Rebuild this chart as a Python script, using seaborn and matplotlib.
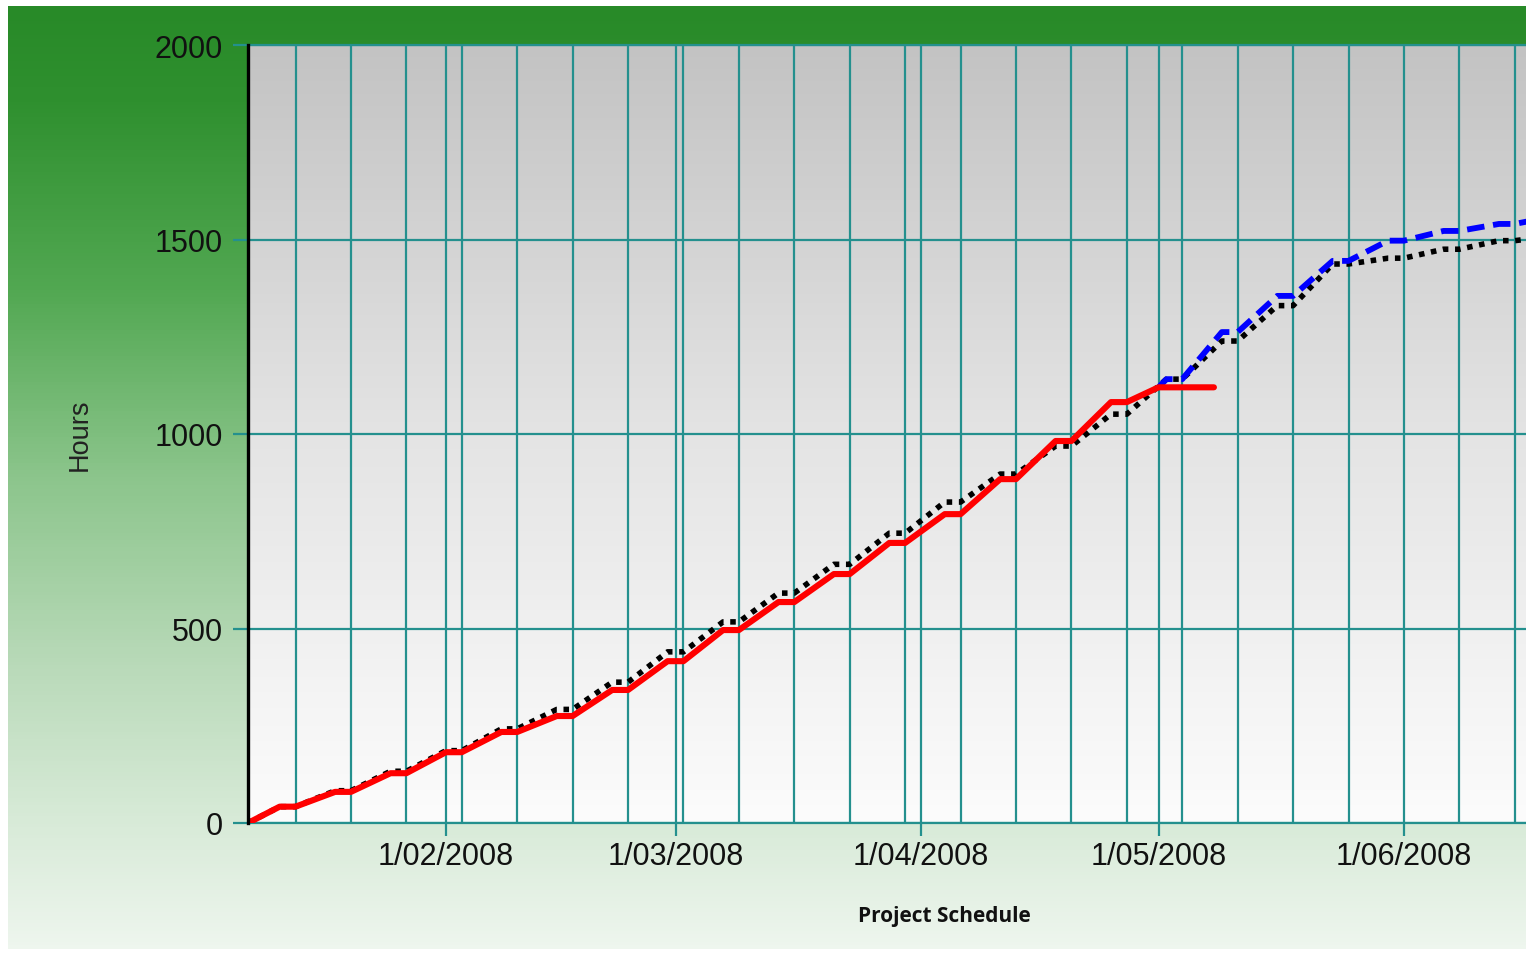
import matplotlib
matplotlib.use("Agg")
import matplotlib.pyplot as plt
import matplotlib.dates as mdates
from matplotlib.colors import LinearSegmentedColormap
from matplotlib.ticker import FuncFormatter
import numpy as np
import pandas as pd
import seaborn as sns

# Werte (Stunden) jeweils am Sonntag der Woche
actual_start = ("2008-01-07", 0)
actual_sundays = ["2008-01-13", "2008-01-20", "2008-01-27", "2008-02-03", "2008-02-10",
                  "2008-02-17", "2008-02-24", "2008-03-02", "2008-03-09", "2008-03-16",
                  "2008-03-23", "2008-03-30", "2008-04-06", "2008-04-13", "2008-04-20",
                  "2008-04-27"]
actual_hours = [42, 80, 128, 182, 234, 275, 342, 416, 496, 568, 640, 720, 794, 884, 982, 1082]
actual_tail = [("2008-05-01", 1120), ("2008-05-08", 1120)]

plan_start = ("2008-01-07", 0)
plan_sundays = ["2008-01-13", "2008-01-20", "2008-01-27", "2008-02-03", "2008-02-10",
                "2008-02-17", "2008-02-24", "2008-03-02", "2008-03-09", "2008-03-16",
                "2008-03-23", "2008-03-30", "2008-04-06", "2008-04-13", "2008-04-20",
                "2008-04-27", "2008-05-04", "2008-05-11", "2008-05-18", "2008-05-25",
                "2008-06-01", "2008-06-08", "2008-06-15"]
plan_hours = [42, 83, 133, 186, 242, 292, 362, 440, 517, 591, 665, 745, 825, 897, 969,
              1051, 1141, 1239, 1330, 1437, 1452, 1475, 1497]
plan_tail = [("2008-06-17", 1502)]

forecast_start = ("2008-05-01", 1120)
forecast_sundays = ["2008-05-04", "2008-05-11", "2008-05-18", "2008-05-25", "2008-06-01",
                    "2008-06-08", "2008-06-15"]
forecast_hours = [1141, 1262, 1355, 1445, 1497, 1522, 1540]
forecast_tail = [("2008-06-17", 1548)]

y_ticks = [0, 500, 1000, 1500, 2000]

TEAL = "#24908e"


def weekend_steps(start, sundays, values, tail):
    """Baut die Wochen-Treppe: Freitag bis Sonntag flach."""
    rows = [(pd.Timestamp(start[0]), start[1])]
    for d, v in zip(sundays, values):
        sun = pd.Timestamp(d)
        rows.append((sun - pd.Timedelta(days=2), v))
        rows.append((sun, v))
    for d, v in tail:
        rows.append((pd.Timestamp(d), v))
    return pd.DataFrame(rows, columns=["date", "hours"])


def month_label(x, pos):
    d = mdates.num2date(x)
    return f"{d.day}/{d.month:02d}/{d.year}"


def main():
    plt.rcParams['font.family'] = ['Liberation Sans', 'DejaVu Sans']

    W, H = 1526, 954
    fig = plt.figure(figsize=(W / 100, H / 100), dpi=100)
    fig.patch.set_facecolor("white")

    # Hintergrund in Pixelkoordinaten
    bg = fig.add_axes([0, 0, 1, 1], zorder=0)
    bg.axis("off")
    green = LinearSegmentedColormap.from_list(
        "green", [(0.0, "#288a28"), (0.1, "#2f902f"), (0.3, "#52a852"),
                  (0.5, "#8cc58c"), (0.7, "#b9dab9"), (0.85, "#d5e9d5"), (1.0, "#eef6ee")])
    grad = np.linspace(0, 1, 256).reshape(-1, 1)
    bg.imshow(grad, extent=[8, W, 950, 7], cmap=green, aspect="auto")
    gray = LinearSegmentedColormap.from_list("gray", ["#c3c3c3", "#e4e4e4", "#fcfcfc"])
    bg.imshow(grad, extent=[248, W, 824, 46], cmap=gray, aspect="auto")
    bg.set_xlim(0, W)
    bg.set_ylim(H, 0)

    ax = fig.add_axes([248 / W, 1 - 824 / H, 1 - 248 / W, (824 - 46) / H], zorder=1)
    ax.patch.set_alpha(0)

    plan = weekend_steps(plan_start, plan_sundays, plan_hours, plan_tail)
    forecast = weekend_steps(forecast_start, forecast_sundays, forecast_hours, forecast_tail)
    actual = weekend_steps(actual_start, actual_sundays, actual_hours, actual_tail)

    sns.lineplot(data=plan, x="date", y="hours", ax=ax, sort=False, estimator=None,
                 color="black", lw=4.0, linestyle=(0, (1, 1.2)), dash_capstyle="butt", zorder=3)
    sns.lineplot(data=forecast, x="date", y="hours", ax=ax, sort=False, estimator=None,
                 color="#0000ff", lw=4.2, linestyle=(0, (3.0, 1.5)), dash_capstyle="butt",
                 dash_joinstyle="round", zorder=4)
    sns.lineplot(data=actual, x="date", y="hours", ax=ax, sort=False, estimator=None,
                 color="#ff0000", lw=4.4, solid_joinstyle="round", solid_capstyle="round",
                 zorder=5)

    ax.set_xlim(pd.Timestamp("2008-01-07"), pd.Timestamp("2008-06-16 10:00"))
    ax.set_ylim(0, 2000)
    ax.set_yticks(y_ticks)
    ax.xaxis.set_major_locator(mdates.MonthLocator())
    ax.xaxis.set_minor_locator(mdates.WeekdayLocator(byweekday=mdates.SU))
    ax.xaxis.set_major_formatter(FuncFormatter(month_label))

    ax.grid(which="both", axis="x", color=TEAL, lw=1.6)
    ax.grid(which="major", axis="y", color=TEAL, lw=1.6)
    ax.set_axisbelow(True)

    ax.tick_params(axis="y", length=11, width=1.6, color=TEAL, pad=7,
                   labelsize=22, labelcolor="#111111")
    ax.tick_params(axis="x", which="major", length=9, width=1.6, color=TEAL, pad=4,
                   labelsize=22, labelcolor="#111111")
    ax.tick_params(axis="x", which="minor", length=0)

    ax.spines["right"].set_visible(False)
    ax.spines["top"].set_color(TEAL)
    ax.spines["top"].set_linewidth(1.6)
    ax.spines["bottom"].set_color(TEAL)
    ax.spines["bottom"].set_linewidth(1.6)
    ax.spines["left"].set_color("black")
    ax.spines["left"].set_linewidth(2.4)
    ax.spines["left"].set_zorder(6)

    ax.set_xlabel("")
    ax.set_ylabel("")
    fig.text(80 / W, 1 - 435 / H, "Hours", rotation=90, fontsize=19.5,
             ha="center", va="center", color="#222222")
    fig.text(944 / W, 1 - 917 / H, "Project Schedule", fontsize=15,
             fontweight="bold", family=["Open Sans", "DejaVu Sans"],
             ha="center", va="center", color="#111111")

    fig.savefig("out.png", dpi=100)


if __name__ == "__main__":
    main()
